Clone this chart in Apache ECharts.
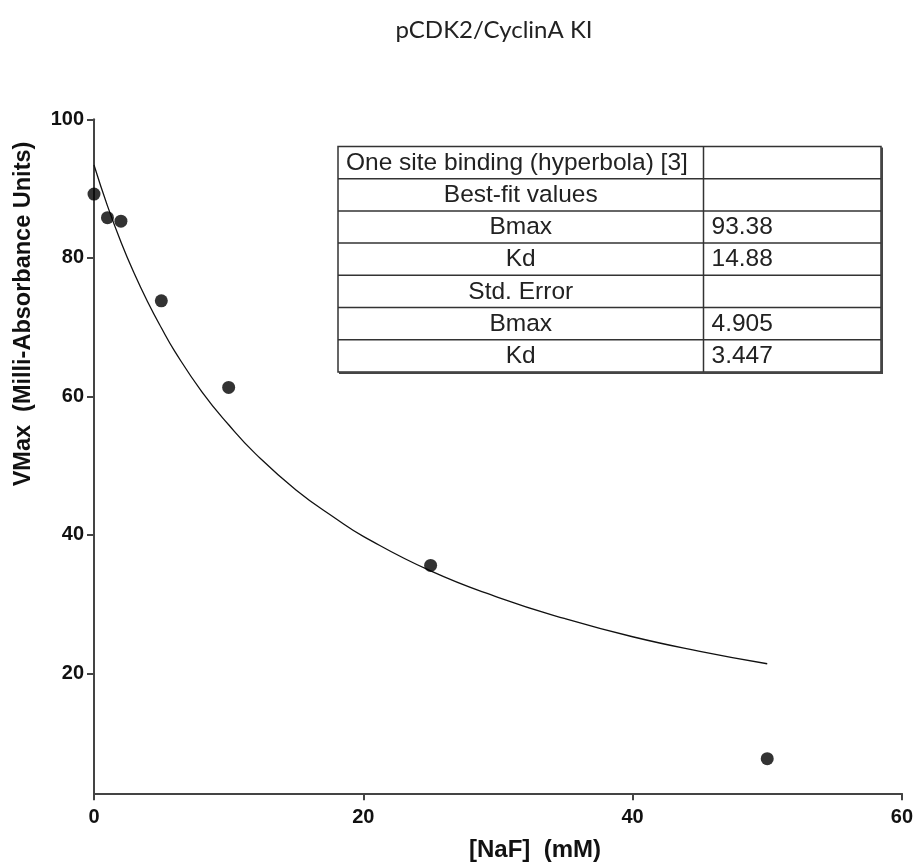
<!DOCTYPE html>
<html>
<head>
<meta charset="utf-8">
<script src="https://cdn.jsdelivr.net/npm/echarts@6/dist/echarts.min.js"></script>
<style>html,body{margin:0;padding:0;background:#fff}#c{width:916px;height:863px}</style>
</head>
<body>
<div id="c"></div>
<script>
// Data
var naf = [0, 1, 2, 5, 10, 25, 50];
var vmax = [89.2, 85.8, 85.3, 73.8, 61.3, 35.6, 7.7];
// Fitted curve
var curveX = [0, 1, 2, 3, 4, 5, 6, 8, 10, 12, 15, 18, 20, 25, 30, 35, 40, 45, 50];
var curveY = [93.4, 87.5, 82.3, 77.7, 73.6, 69.9, 66.5, 60.7, 55.9, 51.7, 46.5, 42.3, 39.8, 34.8, 31.0, 27.9, 25.3, 23.2, 21.4];
var yTicks = [20, 40, 60, 80, 100];
var xTicks = [0, 20, 40, 60];
var tableLabels = ['One site binding (hyperbola) [3]', 'Best-fit values', 'Bmax', 'Kd', 'Std. Error', 'Bmax', 'Kd'];
var tableValues = ['', '', '93.38', '14.88', '', '4.905', '3.447'];
var titleText = 'pCDK2/CyclinA KI';
var xName = '[NaF]  (mM)';
var yName = 'VMax  (Milli-Absorbance Units)';

var chart = echarts.init(document.getElementById('c'));

var pts = naf.map(function (x, i) { return [x, vmax[i]]; });
var curve = curveX.map(function (x, i) { return [x, curveY[i]]; });

// table graphics
var tL = 338, tR = 881, tD = 703.5, tT = 146.5, rowH = 32.2;
var tB = tT + rowH * tableLabels.length;
var lineColor = '#333';
var tFont = '24.5px "Liberation Sans", Arial, sans-serif';
var gfx = [];
gfx.push({ type: 'rect', shape: { x: tL, y: tT, width: tR - tL, height: tB - tT }, style: { fill: '#fff', stroke: lineColor, lineWidth: 1.5 }, z: 10 });
gfx.push({ type: 'line', shape: { x1: tR + 1, y1: tT + 1, x2: tR + 1, y2: tB + 1.5 }, style: { stroke: '#444', lineWidth: 2 }, z: 11 });
gfx.push({ type: 'line', shape: { x1: tL + 1, y1: tB + 1, x2: tR + 2, y2: tB + 1 }, style: { stroke: '#444', lineWidth: 2 }, z: 11 });
gfx.push({ type: 'line', shape: { x1: tD, y1: tT, x2: tD, y2: tB }, style: { stroke: lineColor, lineWidth: 1.5 }, z: 11 });
for (var r = 1; r < tableLabels.length; r++) {
  var yy = tT + r * rowH;
  gfx.push({ type: 'line', shape: { x1: tL, y1: yy, x2: tR, y2: yy }, style: { stroke: lineColor, lineWidth: 1.5 }, z: 11 });
}
tableLabels.forEach(function (t, i) {
  var cy = tT + (i + 0.5) * rowH + 0.5;
  var first = i === 0;
  gfx.push({ type: 'text', x: first ? tL + 8 : (tL + tD) / 2, y: cy, style: { text: t, fill: '#222', font: tFont, textAlign: first ? 'left' : 'center', textVerticalAlign: 'middle' }, z: 12 });
  if (tableValues[i]) {
    gfx.push({ type: 'text', x: tD + 8, y: cy, style: { text: tableValues[i], fill: '#222', font: tFont, textAlign: 'left', textVerticalAlign: 'middle' }, z: 12 });
  }
});
// title and axis names
gfx.push({ type: 'text', x: 494, y: 30, style: { text: titleText, fill: '#222', font: '24px Lato, "Open Sans", sans-serif', textAlign: 'center', textVerticalAlign: 'middle' } });
gfx.push({ type: 'text', x: 535, y: 850, style: { text: xName, fill: '#111', font: 'bold 24px "Liberation Sans", Arial, sans-serif', textAlign: 'center', textVerticalAlign: 'middle' } });
gfx.push({ type: 'text', x: 24, y: 314, rotation: Math.PI / 2, style: { text: yName, fill: '#111', font: 'bold 23.5px "Liberation Sans", Arial, sans-serif', textAlign: 'center', textVerticalAlign: 'middle' } });

chart.setOption({
  animation: false,
  backgroundColor: '#fff',
  grid: { left: 94, right: 13, top: 119.3, bottom: 69.7 },
  xAxis: {
    type: 'value', min: 0, max: 60, interval: 20,
    axisLine: { show: true, lineStyle: { color: '#444', width: 2 } },
    axisTick: { show: true, length: 7, lineStyle: { color: '#444', width: 2 } },
    axisLabel: { margin: 14, color: '#111', fontFamily: '"Liberation Sans", Arial, sans-serif', fontWeight: 'bold', fontSize: 20 },
    splitLine: { show: false }
  },
  yAxis: {
    type: 'value', min: 2.7, max: 100,
    axisLine: { show: true, lineStyle: { color: '#444', width: 2 } },
    axisTick: { show: true, length: 7, customValues: yTicks, lineStyle: { color: '#444', width: 2 } },
    axisLabel: { margin: 10, customValues: yTicks, color: '#111', fontFamily: '"Liberation Sans", Arial, sans-serif', fontWeight: 'bold', fontSize: 20 },
    splitLine: { show: false }
  },
  series: [
    { type: 'line', data: curve, smooth: true, showSymbol: false, symbol: 'none', lineStyle: { color: '#111', width: 1.3 }, z: 2 },
    { type: 'scatter', data: pts, symbol: 'circle', symbolSize: 13, itemStyle: { color: '#000' }, z: 3 }
  ],
  graphic: gfx
});
</script>
</body>
</html>
